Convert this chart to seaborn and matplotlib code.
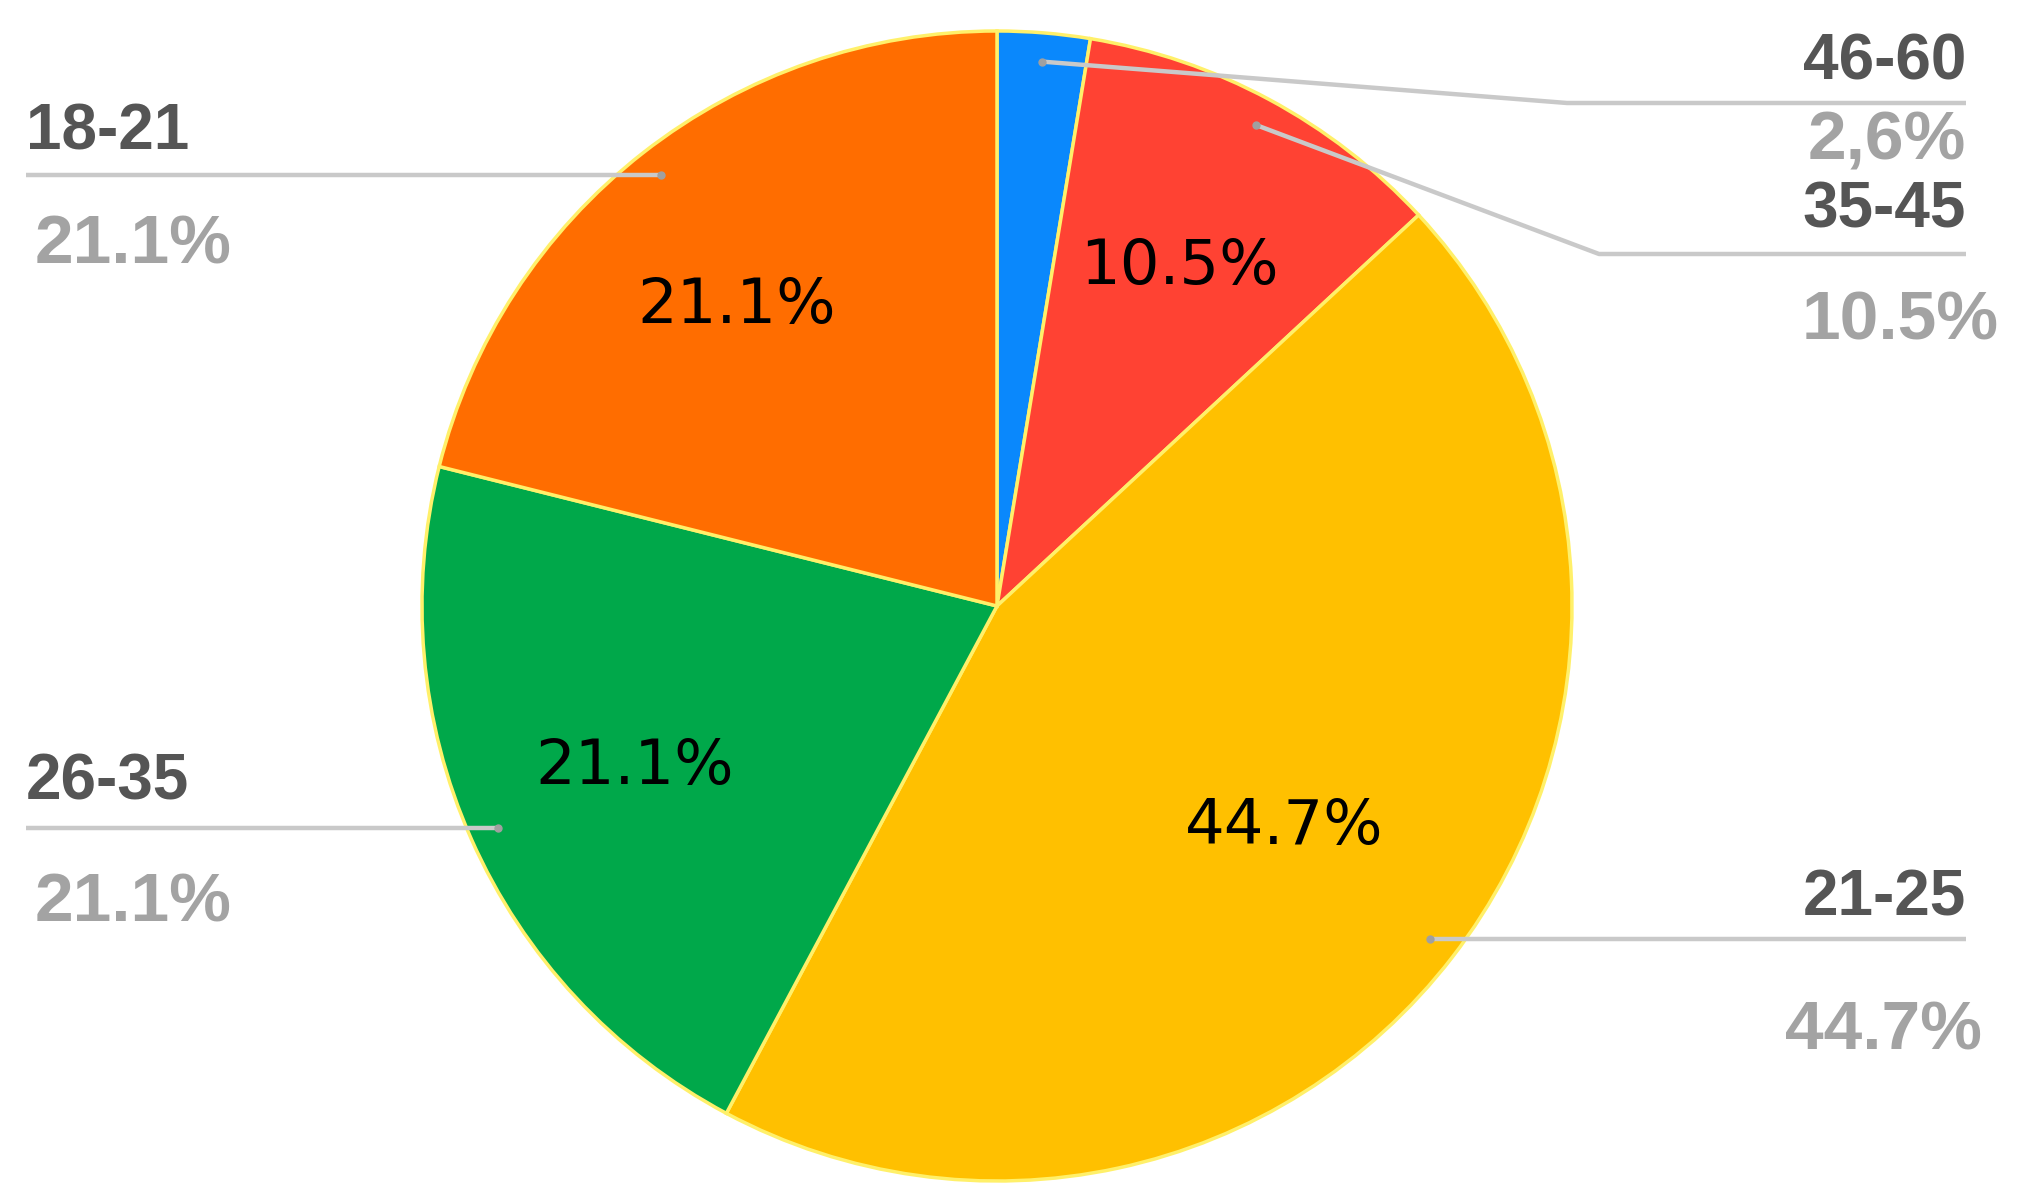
import numpy as np
import matplotlib.pyplot as plt
import seaborn as sns


# -------------------------------------------------
# DATA
# -------------------------------------------------
AGE_GROUPS = ["46-60", "35-45", "21-25", "26-35", "18-21"]
SHARES = [2.6, 10.5, 44.7, 21.1, 21.1]
OUTER_PCT_LABELS = ["2,6%", "10.5%", "44.7%", "21.1%", "21.1%"]
SLICE_COLORS = ["#0a88fc", "#ff4233", "#ffc000", "#00a84a", "#ff6d00"]


# -------------------------------------------------
# LAYOUT (pixels, y measured from the top)
# -------------------------------------------------
W, H = 2022, 1200
CENTER_PX = (997, 606)
RADIUS = 575

# side, line y (None = same as dot), elbow x, name y, pct y, name x, pct x
CALLOUTS = {
    "46-60": ("right", 103, 1567, 62, 142, 1966, 1966),
    "35-45": ("right", 254, 1599, 210, 322, 1966, 1999),
    "21-25": ("right", None, None, 899, 1032, 1966, 1982),
    "26-35": ("left", None, None, 783, 903, 26, 35),
    "18-21": ("left", None, None, 133, 245, 26, 35),
}
LINE_END_X = {"left": 26, "right": 1966}

# inner label distance (fraction of radius), per slice
INNER_DIST = {"35-45": 0.67, "21-25": 0.63, "26-35": 0.69, "18-21": 0.69}

NAME_COLOR = "#555555"
PCT_COLOR = "#a3a3a3"
LINE_COLOR = "#c9c9c9"


def fy(y_px):
    # flip pixel y into data y
    return H - y_px


# -------------------------------------------------
# PLOT
# -------------------------------------------------
sns.set_theme(style="white")
plt.rcParams["font.family"] = ["Liberation Sans", "DejaVu Sans"]

fig = plt.figure(figsize=(W / 100, H / 100), dpi=100)
ax = fig.add_axes([0, 0, 1, 1])

center = (CENTER_PX[0], fy(CENTER_PX[1]))

wedges, _, autotexts = ax.pie(
    SHARES,
    colors=SLICE_COLORS,
    startangle=90,
    counterclock=False,
    center=center,
    radius=RADIUS,
    autopct=lambda p: f"{p:.1f}%" if p > 5 else "",
    pctdistance=0.67,
    wedgeprops=dict(edgecolor="#fff06a", linewidth=2.5),
    textprops=dict(fontsize=45, color="black", family="DejaVu Sans"),
)

# nudge inner labels along the slice's mid angle
for w, t, name in zip(wedges, autotexts, AGE_GROUPS):
    if name in INNER_DIST:
        mid = np.deg2rad((w.theta1 + w.theta2) / 2 + (3 if name == "18-21" else 0))
        r = INNER_DIST[name] * RADIUS
        t.set_position((center[0] + r * np.cos(mid), center[1] + r * np.sin(mid)))

# callouts
for w, name, pct in zip(wedges, AGE_GROUPS, OUTER_PCT_LABELS):
    side, line_y, elbow_x, name_y, pct_y, name_x, pct_x = CALLOUTS[name]
    mid = np.deg2rad((w.theta1 + w.theta2) / 2)
    dot_x = center[0] + 0.95 * RADIUS * np.cos(mid)
    dot_y = center[1] + 0.95 * RADIUS * np.sin(mid)

    if line_y is None:
        xs = [dot_x, LINE_END_X[side]]
        ys = [dot_y, dot_y]
    else:
        xs = [dot_x, elbow_x, LINE_END_X[side]]
        ys = [dot_y, fy(line_y), fy(line_y)]

    ax.plot(xs, ys, color=LINE_COLOR, lw=3.2, solid_capstyle="butt", zorder=5)
    ax.plot(dot_x, dot_y, "o", ms=5, color="#a0a0a0", zorder=6)

    ha = "left" if side == "left" else "right"
    ax.text(name_x, fy(name_y), name, ha=ha, va="center",
            fontsize=46, fontweight="bold", color=NAME_COLOR)
    ax.text(pct_x, fy(pct_y), pct, ha=ha, va="center",
            fontsize=50, fontweight="bold", color=PCT_COLOR)

ax.set_xlim(0, W)
ax.set_ylim(0, H)
ax.set_aspect("equal")
ax.axis("off")

plt.savefig("out.png", dpi=100)
